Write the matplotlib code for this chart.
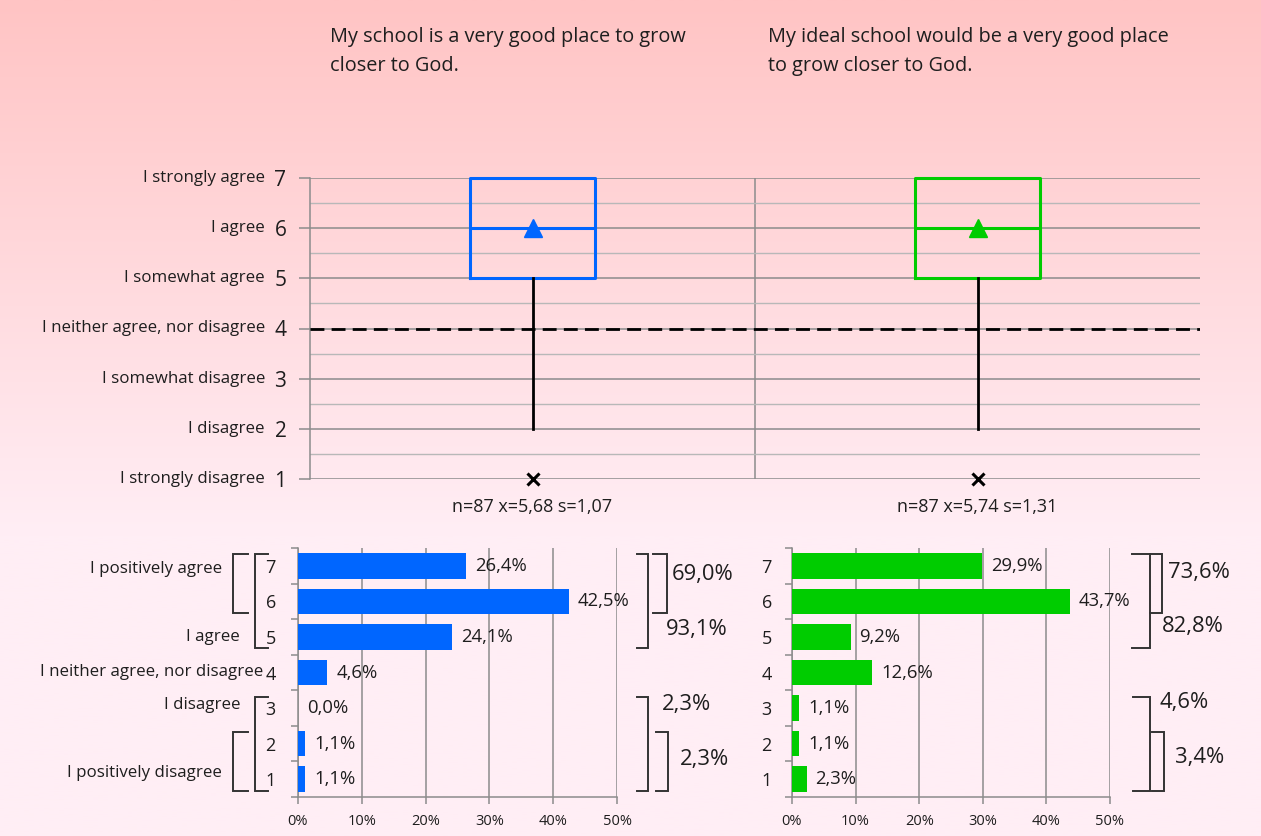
import numpy as np
import matplotlib
matplotlib.use("Agg")
import matplotlib.pyplot as plt
import matplotlib.transforms as mtransforms

plt.rcParams['font.family'] = ['Open Sans', 'DejaVu Sans']

# ---------------- data ----------------
titles = ["My school is a very good place to grow\ncloser to God.",
          "My ideal school would be a very good place\nto grow closer to God."]
scale_values = [1, 2, 3, 4, 5, 6, 7]
scale_labels = ["I strongly disagree", "I disagree", "I somewhat disagree",
                "I neither agree, nor disagree", "I somewhat agree", "I agree",
                "I strongly agree"]
box_q1 = [5, 5]
box_median = [6, 6]
box_q3 = [7, 7]
whisker_low = [2, 2]
whisker_high = [7, 7]
outliers = [[1], [1]]
n_values = [87, 87]
mean_values = [5.68, 5.74]
sd_values = [1.07, 1.31]
neutral_value = 4

categories = [7, 6, 5, 4, 3, 2, 1]
pct_school = [26.4, 42.5, 24.1, 4.6, 0.0, 1.1, 1.1]
pct_ideal = [29.9, 43.7, 9.2, 12.6, 1.1, 1.1, 2.3]
# grouped sums: [top2 (7-6), top3 (7-5), bottom3 (3-1), bottom2 (2-1)]
groups_school = [69.0, 93.1, 2.3, 2.3]
groups_ideal = [73.6, 82.8, 4.6, 3.4]
xtick_values = [0, 10, 20, 30, 40, 50]

# ---------------- style ----------------
W, H = 1261, 836
fig = plt.figure(figsize=(W / 100, H / 100), dpi=100)
TXT = '#1e1e1e'
GRID = '#8c8c8c'
GRID_MINOR = '#b8b8b8'
colors = ['#0066ff', '#00cc00']
LABEL_FS = 12.2

# background gradient
bg = fig.add_axes([0, 0, 1, 1], zorder=-10)
bg.axis('off')
t = np.linspace(0, 1, 400)
top = np.array([255, 196, 196]) / 255
bot = np.array([255, 238, 245]) / 255
f = np.clip(t / 0.64, 0, 1)[:, None]
grad = top * (1 - f) + bot * f
bg.imshow(grad[:, None, :], aspect='auto', extent=[0, 1, 0, 1])
bg.set_xlim(0, 1); bg.set_ylim(0, 1)

# pixel transform (top-left origin)
pix = mtransforms.Affine2D().scale(1 / W, -1 / H).translate(0, 1) + fig.transFigure

def fx(px):
    return px / W

def fy(py):
    return 1 - py / H

# titles
for x0, ttl in zip([330, 768], titles):
    fig.text(fx(x0), fy(27), ttl, ha='left', va='top', fontsize=14.3,
             color=TXT, linespacing=1.62)

# ---------------- box plot ----------------
ax = fig.add_axes([fx(310), fy(479), (1200 - 310) / W, (479 - 178) / H])
ax.set_facecolor('none')
ax.set_xlim(0, 2)
ax.set_ylim(1, 7)
positions = [0.5, 1.5]
for i in range(2):
    stats = [dict(med=box_median[i], q1=box_q1[i], q3=box_q3[i],
                  whislo=whisker_low[i], whishi=whisker_high[i],
                  fliers=outliers[i])]
    arts = ax.bxp(stats, positions=[positions[i]], widths=0.28,
                  showcaps=False, showfliers=True,
                  boxprops=dict(color=colors[i], linewidth=2.2),
                  medianprops=dict(color=colors[i], linewidth=2.2),
                  whiskerprops=dict(color='black', linewidth=2.0),
                  flierprops=dict(marker='x', markersize=9, markeredgewidth=2.2,
                                  markeredgecolor='black'))
    for k, v in arts.items():
        for a in v:
            a.set_clip_on(False)
            a.set_zorder(4)
    ax.plot([positions[i]], [box_median[i]], marker='^', color=colors[i],
            markersize=13, zorder=5, clip_on=False)
ax.axhline(neutral_value, color='black', lw=2.0, ls=(0, (5, 2.6)), zorder=3)
ax.axvline(1, color=GRID, lw=1.1, zorder=1)
ax.set_yticks(scale_values)
ax.set_yticks(np.arange(1.5, 7, 1), minor=True)
ax.set_yticklabels([str(v) for v in scale_values], fontsize=15, color=TXT)
ax.grid(True, which='major', axis='y', color=GRID, lw=1.1, zorder=1)
ax.grid(True, which='minor', axis='y', color=GRID_MINOR, lw=1.0, zorder=1)
ax.tick_params(axis='y', which='major', length=8, width=1.1, color=GRID,
               pad=9, direction='out')
ax.tick_params(axis='y', which='minor', length=0)
ax.set_xticks([])
for s in ['top', 'right', 'bottom']:
    ax.spines[s].set_visible(False)
ax.spines['left'].set_color(GRID)
ax.spines['left'].set_linewidth(1.1)
lab_tr = mtransforms.blended_transform_factory(pix, ax.transData)
for v, lab in zip(scale_values, scale_labels):
    ax.text(265, v, lab, transform=lab_tr, ha='right', va='center',
            fontsize=LABEL_FS, color=TXT)
stat_tr = mtransforms.blended_transform_factory(ax.transData, pix)
for i in range(2):
    s = f"n={n_values[i]} x={mean_values[i]:.2f} s={sd_values[i]:.2f}".replace('.', ',')
    ax.text(positions[i], 507, s, transform=stat_tr, ha='center', va='center',
            fontsize=13, color=TXT)

# ---------------- bar charts ----------------
def fmt(v):
    return f"{v:.1f}%".replace('.', ',')

def bracket(axb, x0, x1, ytop, ybot, side):
    tr = mtransforms.blended_transform_factory(pix, axb.transData)
    if side == ']':
        xs = [x0, x1, x1, x0]
    else:
        xs = [x1, x0, x0, x1]
    axb.plot(xs, [ytop, ytop, ybot, ybot], color='#333333', lw=1.4,
             transform=tr, clip_on=False, solid_joinstyle='miter')

def bar_axes(left_px, right_px, values, color, tick_pad):
    axb = fig.add_axes([fx(left_px), fy(797), (right_px - left_px) / W, (797 - 548) / H])
    axb.set_facecolor('none')
    axb.barh(categories, values, height=0.72, color=color, zorder=3)
    axb.set_xlim(0, 50)
    axb.set_ylim(0.5, 7.5)
    axb.set_xticks(xtick_values)
    axb.set_xticklabels([f"{v}%" for v in xtick_values], fontsize=10.5, color=TXT)
    axb.set_yticks(categories)
    axb.set_yticklabels([str(c) for c in categories], fontsize=13, color=TXT)
    axb.set_yticks(np.arange(0.5, 8, 1), minor=True)
    axb.tick_params(axis='y', which='major', length=0, pad=tick_pad)
    axb.tick_params(axis='y', which='minor', length=5, width=1.1, color=GRID,
                    direction='out')
    axb.tick_params(axis='x', which='major', length=5, width=1.1, color=GRID,
                    direction='out', pad=7)
    axb.grid(True, axis='x', color=GRID, lw=1.1, zorder=1)
    for s in ['top', 'right']:
        axb.spines[s].set_visible(False)
    for s in ['left', 'bottom']:
        axb.spines[s].set_color(GRID)
        axb.spines[s].set_linewidth(1.1)
    for c, v in zip(categories, values):
        axb.text(v + 1.4, c, fmt(v), ha='left', va='center', fontsize=13.3,
                 color=TXT, zorder=4)
    return axb

axL = bar_axes(298, 617, pct_school, colors[0], 16)
axR = bar_axes(792, 1110, pct_ideal, colors[1], 14.5)

off = 0.32
# left chart - left side labels / brackets
trL = mtransforms.blended_transform_factory(pix, axL.transData)
axL.text(222, 6.9, "I positively agree", transform=trL, ha='right', va='center',
         fontsize=LABEL_FS, color=TXT)
axL.text(240, 5.0, "I agree", transform=trL, ha='right', va='center',
         fontsize=LABEL_FS, color=TXT)
axL.text(263, 4.0, "I neither agree, nor disagree", transform=trL, ha='right',
         va='center', fontsize=LABEL_FS, color=TXT)
axL.text(240, 3.1, "I disagree", transform=trL, ha='right', va='center',
         fontsize=LABEL_FS, color=TXT)
axL.text(222, 1.17, "I positively disagree", transform=trL, ha='right',
         va='center', fontsize=LABEL_FS, color=TXT)
bracket(axL, 233, 248, 7 + off, 6 - off, '[')
bracket(axL, 255, 268, 7 + off, 5 - off, '[')
bracket(axL, 255, 268, 3 + off, 1 - off, '[')
bracket(axL, 233, 248, 2 + off, 1 - off, '[')

# right-side group brackets
def group_marks(axb, xs, vals, label_pos):
    tr = mtransforms.blended_transform_factory(pix, axb.transData)
    (a0, a1), (b0, b1), (c0, c1), (d0, d1) = xs
    bracket(axb, b0, b1, 7 + off, 5 - off, ']')
    bracket(axb, a0, a1, 7 + off, 6 - off, ']')
    bracket(axb, c0, c1, 3 + off, 1 - off, ']')
    bracket(axb, d0, d1, 2 + off, 1 - off, ']')
    for v, (px, yd) in zip(vals, label_pos):
        axb.text(px, yd, fmt(v), transform=tr, ha='left', va='center',
                 fontsize=15.8, color=TXT)

group_marks(axL, [(653, 667), (637, 648), (637, 648), (656, 668)], groups_school,
            [(672, 6.75), (666, 5.2), (662, 3.1), (680, 1.55)])
group_marks(axR, [(1150, 1162), (1132, 1150), (1133, 1150), (1152, 1164)], groups_ideal,
            [(1168, 6.8), (1162, 5.3), (1160, 3.15), (1175, 1.6)])

fig.savefig("out.png", dpi=100)
